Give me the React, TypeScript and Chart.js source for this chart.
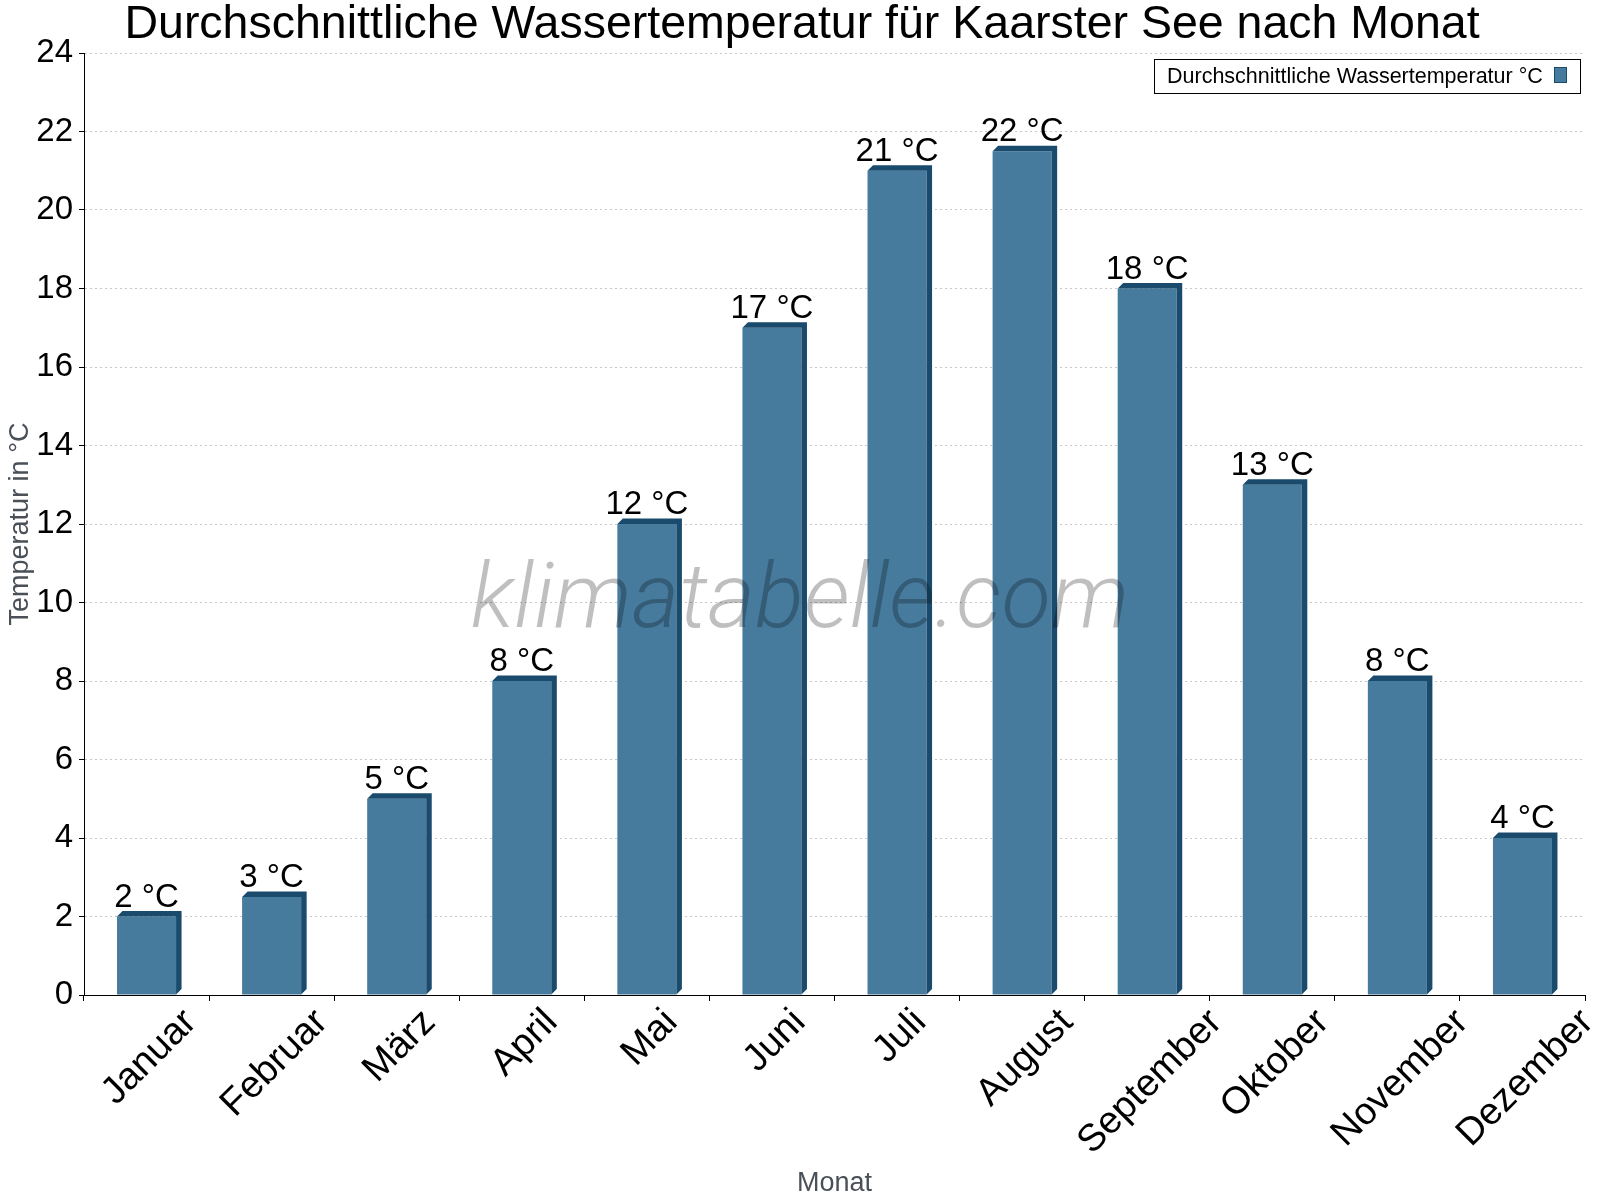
import React, { useEffect, useRef } from 'react';
import { Chart, registerables } from 'chart.js';

Chart.register(...registerables);

const chartTitle = 'Durchschnittliche Wassertemperatur für Kaarster See nach Monat';
const seriesLabel = 'Durchschnittliche Wassertemperatur °C';
const yAxisTitle = 'Temperatur in °C';
const xAxisTitle = 'Monat';
const watermarkText = 'klimatabelle.com';

const months = ['Januar', 'Februar', 'März', 'April', 'Mai', 'Juni', 'Juli', 'August', 'September', 'Oktober', 'November', 'Dezember'];
const waterTemps = [2, 2.5, 5, 8, 12, 17, 21, 21.5, 18, 13, 8, 4];
const yMin = 0;
const yMax = 24;
const yStep = 2;

const FONT = '"Liberation Sans", Arial, Helvetica, sans-serif';
const FRONT = '#467b9e';
const DARK = '#1a4b6c';

const decorPlugin = {
  id: 'decor',
  afterDatasetsDraw(chart: any) {
    const ctx: CanvasRenderingContext2D = chart.ctx;
    const meta = chart.getDatasetMeta(0);
    const xScale = chart.scales.x;
    const d = 5.5;
    ctx.save();
    // 3D faces
    ctx.fillStyle = DARK;
    meta.data.forEach((bar: any) => {
      const { x, y, base, width } = bar.getProps(['x', 'y', 'base', 'width'], true);
      const l = x - width / 2;
      const r = x + width / 2;
      ctx.beginPath();
      ctx.moveTo(l, y);
      ctx.lineTo(l + d, y - d);
      ctx.lineTo(r + d, y - d);
      ctx.lineTo(r + d, base - d);
      ctx.lineTo(r, base);
      ctx.lineTo(r, y);
      ctx.closePath();
      ctx.fill();
    });

    // watermark
    ctx.fillStyle = 'rgba(0,0,0,0.25)';
    ctx.font = 'italic 300 91px "Roboto Light", Roboto, "Liberation Sans", sans-serif';
    ctx.textAlign = 'center';
    ctx.textBaseline = 'alphabetic';
    ctx.fillText(watermarkText, 800, 627);

    // value labels
    ctx.fillStyle = '#000';
    ctx.font = `33px ${FONT}`;
    ctx.textAlign = 'center';
    ctx.textBaseline = 'alphabetic';
    meta.data.forEach((bar: any, i: number) => {
      const { x, y } = bar.getProps(['x', 'y'], true);
      ctx.fillText(`${Math.round(waterTemps[i])} °C`, x, y - 10);
    });

    // rotated category labels
    const fs = 38;
    ctx.font = `${fs}px ${FONT}`;
    ctx.textAlign = 'center';
    ctx.textBaseline = 'middle';
    months.forEach((m, i) => {
      const cx = xScale.getPixelForTick(i);
      const L = ctx.measureText(m).width;
      const W = 0.7071 * (L + fs);
      const top = 1003;
      ctx.save();
      ctx.translate(cx + 3, top + W / 2);
      ctx.rotate(-Math.PI / 4);
      ctx.fillText(m, 0, 0);
      ctx.restore();
    });

    // legend
    ctx.fillStyle = '#fff';
    ctx.fillRect(1154.5, 59.5, 426, 34);
    ctx.strokeStyle = '#000';
    ctx.lineWidth = 1;
    ctx.strokeRect(1154.5, 59.5, 426, 34);
    ctx.fillStyle = '#000';
    ctx.font = `21.5px ${FONT}`;
    ctx.textAlign = 'left';
    ctx.textBaseline = 'middle';
    ctx.fillText(seriesLabel, 1167, 77);
    ctx.fillStyle = FRONT;
    ctx.fillRect(1554.5, 67.5, 12, 15);
    ctx.strokeStyle = DARK;
    ctx.strokeRect(1554.5, 67.5, 12, 15);

    // title
    ctx.fillStyle = '#000';
    ctx.font = `46.5px ${FONT}`;
    ctx.textAlign = 'center';
    ctx.textBaseline = 'alphabetic';
    ctx.fillText(chartTitle, 802, 38);
    ctx.restore();
  },
};

export default function App() {
  const ref = useRef<HTMLCanvasElement>(null);
  useEffect(() => {
    document.body.style.margin = '0';
    const chart = new Chart(ref.current as HTMLCanvasElement, {
      type: 'bar',
      data: {
        labels: months,
        datasets: [
          {
            label: seriesLabel,
            data: waterTemps,
            backgroundColor: FRONT,
            borderWidth: 0,
            barPercentage: 0.472,
            categoryPercentage: 1,
          },
        ],
      },
      options: {
        responsive: false,
        devicePixelRatio: 1,
        animation: false,
        layout: { padding: { top: 53, right: 15, left: 0, bottom: 0 } },
        plugins: {
          legend: { display: false },
          title: { display: false },
          tooltip: { enabled: false },
        },
        scales: {
          x: {
            offset: true,
            afterFit: (s: any) => {
              s.height = 205;
            },
            grid: {
              offset: true,
              drawOnChartArea: false,
              drawTicks: true,
              tickLength: 6,
              tickColor: '#000',
            },
            border: { display: true, color: '#000', width: 1 },
            ticks: { display: false },
            title: {
              display: true,
              text: xAxisTitle,
              color: '#4a5058',
              font: { family: FONT, size: 27 },
              padding: { top: 0, bottom: 0 },
            },
          },
          y: {
            min: yMin,
            max: yMax,
            afterFit: (s: any) => {
              s.width = 84;
            },
            grid: {
              color: '#c8c8c8',
              drawOnChartArea: true,
              drawTicks: true,
              tickLength: 5,
              tickColor: '#000',
            },
            border: { display: true, color: '#000', width: 1, dash: [2, 3] },
            ticks: {
              stepSize: yStep,
              color: '#000',
              padding: 6,
              font: { family: FONT, size: 33 },
            },
            title: {
              display: true,
              text: yAxisTitle,
              color: '#4a5058',
              font: { family: FONT, size: 27 },
              padding: { top: 4, bottom: 4 },
            },
          },
        },
      },
      plugins: [decorPlugin],
    });
    return () => chart.destroy();
  }, []);
  return (
    <div style={{ width: 1600, height: 1200, position: 'relative', background: '#fff' }}>
      <canvas ref={ref} width={1600} height={1200} style={{ width: 1600, height: 1200, display: 'block' }} />
    </div>
  );
}
